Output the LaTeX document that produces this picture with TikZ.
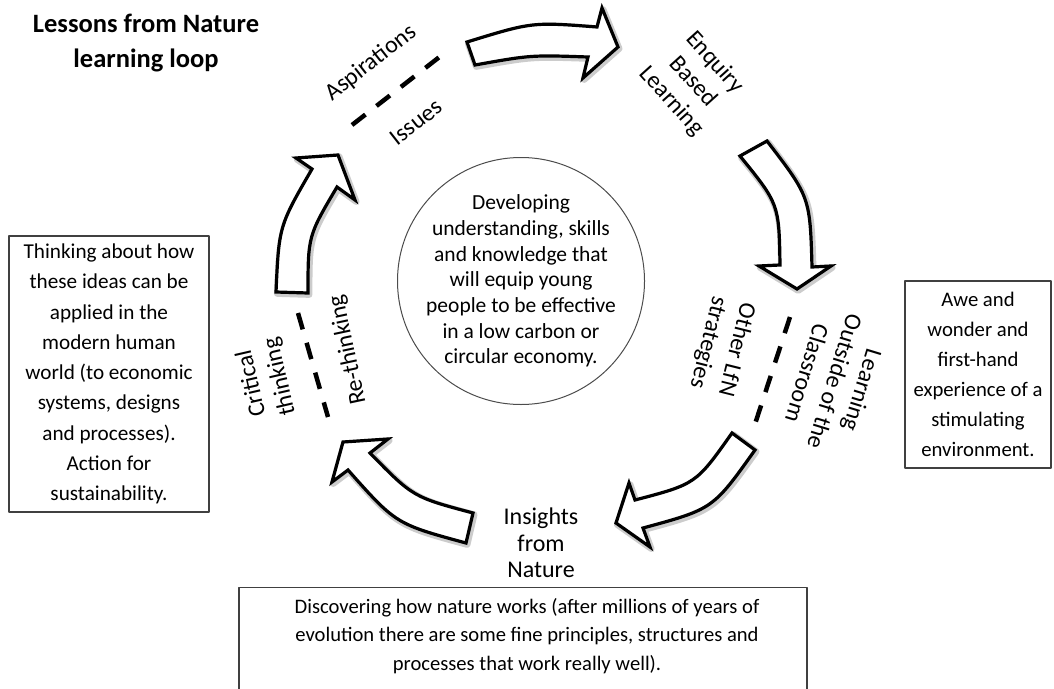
\documentclass[tikz,border=0pt]{standalone}
\usepackage{fontspec}
\setmainfont{Carlito}
\begin{document}
\begin{tikzpicture}[x=1pt, y=-1pt, line join=round,
  arrowbody/.style={draw=black, line width=3.2pt, fill=white, line join=miter},
  arrowshade/.style={draw=black!20, line width=6.5pt, shift={(1.2,1.6)}},
  divider/.style={line width=4.5pt, dash pattern=on 17pt off 14pt},
  looplabel/.style={font=\fontsize{24}{29}\selectfont, align=center, inner sep=0pt},
  notebox/.style={draw=black!75, line width=1.3pt, inner sep=0pt},
  notetext/.style={font=\fontsize{21.2}{30.3}\selectfont, align=center, inner sep=0pt}]
\useasboundingbox (0,0) rectangle (1054,688);

\node[font=\bfseries\fontsize{26.5}{35}\selectfont, align=center] (title) at (146,43) {Lessons from Nature\\learning loop};

\node[draw=black!70, line width=1pt, circle, minimum size=247pt, inner sep=0pt] (ring) at (521,281) {};
\node[font=\fontsize{21.5}{25.7}\selectfont, align=center, inner sep=0pt] (core) at (ring.center) {Developing\\understanding, skills\\and knowledge that\\will equip young\\people to be effective\\in a low carbon or\\circular economy.};

\foreach \lay in {arrowshade,arrowbody}{
  \draw[\lay] (467,42) .. controls (532,22) .. (597,27) -- (602,8) -- (618,47) -- (583,78) -- (588,57) .. controls (531,55) .. (475,65) -- cycle;
  \draw[\lay] (767,141) .. controls (810,197) .. (812,267) -- (831,266) -- (797,289) -- (759,266) -- (780,265) .. controls (779,204) .. (740,156) -- cycle;
  \draw[\lay] (755,450) .. controls (713,509) .. (643,528) -- (650,547) -- (616,523) -- (629,483) -- (635,500) .. controls (696,484) .. (732,433) -- cycle;
  \draw[\lay] (466,543) .. controls (396,524) .. (348,470) -- (332,482) -- (343,442) -- (388,439) -- (370,453) .. controls (413,497) .. (473,513) -- cycle;
  \draw[\lay] (276,292) .. controls (279,226) .. (312,169) -- (296,158) -- (338,155) -- (355,200) -- (337,187) .. controls (308,236) .. (308,293) -- cycle;
}

\coordinate (top1) at (352,125); \coordinate (top2) at (442,55);
\coordinate (right1) at (790,317); \coordinate (right2) at (755,424);
\coordinate (left1) at (298,313); \coordinate (left2) at (328,417);
\draw[divider] (top1) -- (top2);
\draw[divider] (right1) -- (right2);
\draw[divider] (left1) -- (left2);

\node[looplabel, rotate=38] (asp) at (371,63) {Aspirations};
\node[looplabel, rotate=38] (iss) at (416,122) {Issues};
\node[looplabel, rotate=-48] (ebl) at (693,82) {Enquiry\\Based\\Learning};
\node[looplabel, rotate=-107] (lotc) at (835,382) {Learning\\Outside of the\\Classroom};
\node[looplabel, rotate=-104] (lfn) at (722,346) {Other LfN\\strategies};
\node[looplabel, font=\fontsize{24}{26.5}\selectfont] (ins) at (541,543) {Insights\\from\\Nature};
\node[looplabel, rotate=103] (crit) at (266,380) {Critical\\thinking};
\node[looplabel, rotate=102] (rethink) at (348,350) {Re-thinking};

\node[notebox, minimum width=200pt, minimum height=276pt] (thinkbox) at (109,374) {};
\node[notetext] (think) at (thinkbox.center) {Thinking about how\\these ideas can be\\applied in the\\modern human\\world (to economic\\systems, designs\\and processes).\\Action for\\sustainability.};
\node[notebox, minimum width=146pt, minimum height=187pt] (awebox) at (978,374.5) {};
\node[notetext, font=\fontsize{20.7}{30}\selectfont] (awe) at (awebox.center) {Awe and\\wonder and\\first-hand\\experience of a\\stimulating\\environment.};
\node[notebox, minimum width=568pt, minimum height=120pt, anchor=north] (discoverbox) at (523,587) {};
\node[notetext, font=\fontsize{20.6}{28.5}\selectfont] (discover) at (527,636) {Discovering how nature works (after millions of years of\\evolution there are some fine principles, structures and\\processes that work really well).};
\end{tikzpicture}
\end{document}
